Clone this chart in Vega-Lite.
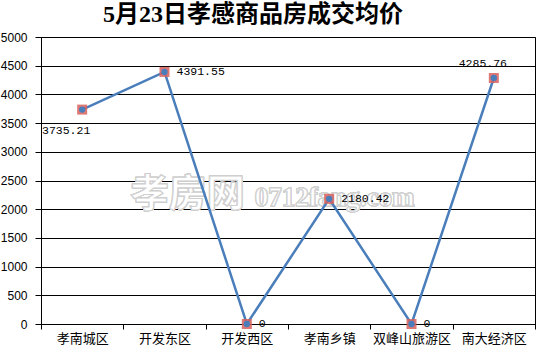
{
  "$schema": "https://vega.github.io/schema/vega-lite/v6.json",
  "autosize": {"type": "none"},
  "width": 494,
  "height": 287,
  "padding": {"left": 41, "top": 37, "right": 4, "bottom": 30},
  "background": "white",
  "title": {
    "text": "5月23日孝感商品房成交均价",
    "anchor": "start",
    "frame": "group",
    "dx": 62,
    "offset": 4,
    "font": "Liberation Serif, Noto Sans CJK SC",
    "fontSize": 24,
    "fontWeight": "bold",
    "color": "black"
  },
  "data": {
    "values": [
      {"区域": "孝南城区", "均价": 3735.21},
      {"区域": "开发东区", "均价": 4391.55},
      {"区域": "开发西区", "均价": 0},
      {"区域": "孝南乡镇", "均价": 2180.42},
      {"区域": "双峰山旅游区", "均价": 0},
      {"区域": "南大经济区", "均价": 4285.76}
    ]
  },
  "encoding": {
    "x": {
      "field": "区域",
      "type": "nominal",
      "sort": null,
      "scale": {"type": "band", "paddingInner": 0, "paddingOuter": 0, "domain": ["孝南城区", "开发东区", "开发西区", "孝南乡镇", "双峰山旅游区", "南大经济区"]},
      "axis": {
        "title": null,
        "labelAngle": 0,
        "tickBand": "extent",
        "tickSize": 5,
        "tickColor": "black",
        "domainColor": "black",
        "labelFont": "Noto Sans CJK SC",
        "labelFontSize": 13,
        "labelColor": "black",
        "labelPadding": 3
      }
    },
    "y": {
      "field": "均价",
      "type": "quantitative",
      "scale": {"domain": [0, 5000], "nice": false},
      "axis": {
        "title": null,
        "format": "d",
        "values": [0, 500, 1000, 1500, 2000, 2500, 3000, 3500, 4000, 4500, 5000],
        "grid": true,
        "gridColor": "black",
        "gridOpacity": 1,
        "tickSize": 6,
        "tickColor": "black",
        "domainColor": "black",
        "labelFont": "Liberation Sans",
        "labelFontSize": 12,
        "labelColor": "black",
        "labelPadding": 8
      }
    }
  },
  "layer": [
    {
      "mark": {"type": "text", "text": "孝房网", "font": "Noto Sans CJK SC", "fontSize": 38, "fontWeight": "bold", "fill": "white", "stroke": "#cfcfcf", "strokeWidth": 1, "align": "center", "baseline": "middle", "dx": -59},
      "encoding": {"x": {"datum": "开发西区"}, "y": {"datum": 2250}}
    },
    {
      "mark": {"type": "text", "text": "0712fang.com", "font": "Liberation Serif", "fontSize": 27, "fontWeight": "bold", "fill": "white", "stroke": "#cfcfcf", "strokeWidth": 1, "align": "left", "baseline": "middle", "dx": 8},
      "encoding": {"x": {"datum": "开发西区"}, "y": {"datum": 2200}}
    },
    {
      "mark": {"type": "line", "color": "#4a7ebb", "strokeWidth": 2.5}
    },
    {
      "mark": {"type": "point", "shape": "square", "filled": true, "size": 100, "color": "#d8605d", "opacity": 0.85}
    },
    {
      "mark": {"type": "point", "shape": "circle", "filled": true, "size": 40, "color": "#4a7ebb", "opacity": 1}
    },
    {
      "transform": [{"filter": "datum['区域'] == '开发东区' || datum['区域'] == '开发西区' || datum['区域'] == '孝南乡镇' || datum['区域'] == '双峰山旅游区'"}],
      "mark": {"type": "text", "font": "Liberation Mono", "fontSize": 11.5, "color": "black", "align": "left", "baseline": "middle", "dx": 12},
      "encoding": {"text": {"field": "均价", "type": "quantitative", "format": "~f"}}
    },
    {
      "transform": [{"filter": "datum['区域'] == '孝南城区'"}],
      "mark": {"type": "text", "font": "Liberation Mono", "fontSize": 11.5, "color": "black", "align": "center", "baseline": "middle", "dx": -16, "dy": 21},
      "encoding": {"text": {"field": "均价", "type": "quantitative", "format": "~f"}}
    },
    {
      "transform": [{"filter": "datum['区域'] == '南大经济区'"}],
      "mark": {"type": "text", "font": "Liberation Mono", "fontSize": 11.5, "color": "black", "align": "center", "baseline": "middle", "dx": -11, "dy": -14},
      "encoding": {"text": {"field": "均价", "type": "quantitative", "format": "~f"}}
    }
  ],
  "config": {
    "view": {"stroke": "black", "strokeWidth": 1}
  }
}
